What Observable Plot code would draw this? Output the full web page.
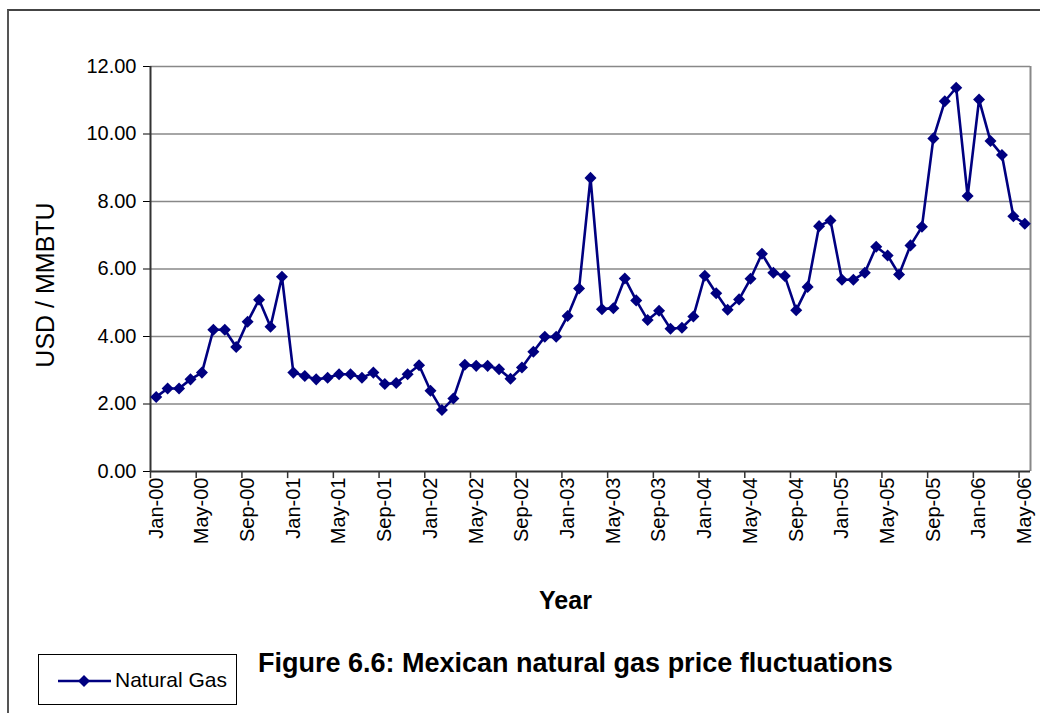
<!DOCTYPE html>
<html>
<head>
<meta charset="utf-8">
<script src="https://cdn.jsdelivr.net/npm/d3@7"></script>
<script src="https://cdn.jsdelivr.net/npm/@observablehq/plot@0.6"></script>
<style>
  html, body { margin: 0; padding: 0; background: #fff; }
  body { width: 1040px; height: 713px; overflow: hidden; position: relative;
         font-family: 'Liberation Sans', Arial, Helvetica, sans-serif; }
  #frame { position: absolute; left: 7px; top: 9px; width: 1200px; height: 900px;
           border-top: 2px solid #444; border-left: 2px solid #555; }
  #chart { position: absolute; left: 0; top: 0; }
  #legend { position: absolute; left: 38px; top: 654px; width: 199px; height: 51px;
            border: 1px solid #000; box-sizing: border-box; background: #fff; }
  #legend svg { position: absolute; left: 18px; top: 19px; }
  #legend span { position: absolute; left: 76px; top: 14px; font-size: 21px; line-height: 21px; color: #000; }
  #caption { position: absolute; left: 258px; top: 650px; font-size: 27px; line-height: 27px;
             font-weight: bold; color: #000; white-space: nowrap; }
</style>
</head>
<body>
<div id="frame"></div>
<div id="chart"></div>
<div id="legend">
  <svg width="56" height="14" viewBox="0 0 56 14">
    <line x1="1" y1="7" x2="54" y2="7" stroke="#000080" stroke-width="2.6"></line>
    <path d="M27,1 L33,7 L27,13 L21,7 Z" fill="#000080"></path>
  </svg>
  <span>Natural Gas</span>
</div>
<div id="caption">Figure 6.6: Mexican natural gas price fluctuations</div>
<script>
// Monthly categories, Jan-00 through May-06
const months = [
  "Jan-00","Feb-00","Mar-00","Apr-00","May-00","Jun-00","Jul-00","Aug-00","Sep-00","Oct-00","Nov-00","Dec-00",
  "Jan-01","Feb-01","Mar-01","Apr-01","May-01","Jun-01","Jul-01","Aug-01","Sep-01","Oct-01","Nov-01","Dec-01",
  "Jan-02","Feb-02","Mar-02","Apr-02","May-02","Jun-02","Jul-02","Aug-02","Sep-02","Oct-02","Nov-02","Dec-02",
  "Jan-03","Feb-03","Mar-03","Apr-03","May-03","Jun-03","Jul-03","Aug-03","Sep-03","Oct-03","Nov-03","Dec-03",
  "Jan-04","Feb-04","Mar-04","Apr-04","May-04","Jun-04","Jul-04","Aug-04","Sep-04","Oct-04","Nov-04","Dec-04",
  "Jan-05","Feb-05","Mar-05","Apr-05","May-05","Jun-05","Jul-05","Aug-05","Sep-05","Oct-05","Nov-05","Dec-05",
  "Jan-06","Feb-06","Mar-06","Apr-06","May-06"
];

// Natural gas price, USD / MMBTU
const price = [
  2.21, 2.46, 2.46, 2.73, 2.93, 4.20, 4.20, 3.69, 4.44, 5.09, 4.29, 5.77,
  2.93, 2.83, 2.73, 2.78, 2.88, 2.88, 2.78, 2.93, 2.59, 2.62, 2.88, 3.15,
  2.39, 1.82, 2.16, 3.16, 3.13, 3.13, 3.03, 2.75, 3.08, 3.55, 3.99, 3.99,
  4.61, 5.42, 8.70, 4.81, 4.84, 5.72, 5.07, 4.49, 4.76, 4.23, 4.26, 4.59,
  5.80, 5.28, 4.79, 5.10, 5.71, 6.45, 5.89, 5.79, 4.78, 5.47, 7.27, 7.44,
  5.68, 5.68, 5.89, 6.66, 6.40, 5.84, 6.70, 7.25, 9.87, 10.97, 11.37, 8.16,
  11.02, 9.79, 9.38, 7.56, 7.34
];

// Labelled months (every fourth category) and value-axis ticks
const labelledMonths = ["Jan-00","May-00","Sep-00","Jan-01","May-01","Sep-01","Jan-02","May-02","Sep-02",
  "Jan-03","May-03","Sep-03","Jan-04","May-04","Sep-04","Jan-05","May-05","Sep-05","Jan-06","May-06"];
const yTicks = [0, 2, 4, 6, 8, 10, 12];

const navy = "#000080";
const data = months.map((m, i) => ({i, month: m, value: price[i]}));
const labelIndex = labelledMonths.map(m => months.indexOf(m));
// Category boundaries where the short tick marks sit
const boundaries = labelIndex.map(i => i - 0.5);

// Square diamond marker
const diamond = {
  draw(context, size) {
    const h = Math.sqrt(size / 2);
    context.moveTo(0, -h);
    context.lineTo(h, 0);
    context.lineTo(0, h);
    context.lineTo(-h, 0);
    context.closePath();
  }
};

const chart = Plot.plot({
  width: 1040,
  height: 640,
  marginLeft: 150,
  marginRight: 10,
  marginTop: 66,
  marginBottom: 169,
  style: {
    fontFamily: "'Liberation Sans', Arial, Helvetica, sans-serif",
    fontSize: "20px",
    color: "#000",
    background: "transparent",
    overflow: "visible"
  },
  x: {
    type: "linear",
    domain: [-0.5, months.length - 0.5],
    ticks: labelIndex,
    tickFormat: i => months[i],
    tickRotate: -90,
    tickSize: 0,
    tickPadding: 6,
    label: null
  },
  y: {
    domain: [0, 12],
    ticks: yTicks,
    tickFormat: d => d.toFixed(2),
    tickSize: 7,
    tickPadding: 7,
    label: null
  },
  marks: [
    Plot.ruleY(yTicks.filter(d => d > 0), {stroke: "#888", strokeWidth: 1.5}),
    Plot.ruleX([months.length - 0.5], {stroke: "#888", strokeWidth: 2}),
    Plot.ruleX(boundaries, {y1: 0, y2: -0.21, stroke: "#333", strokeWidth: 1.5}),
    Plot.ruleY([0], {stroke: "#333", strokeWidth: 2}),
    Plot.ruleX([-0.5], {stroke: "#333", strokeWidth: 2}),
    Plot.line(data, {x: "i", y: "value", stroke: navy, strokeWidth: 2.6}),
    Plot.dot(data, {x: "i", y: "value", symbol: diamond, r: 4.8, fill: navy, stroke: null}),
    Plot.text(["USD / MMBTU"], {text: d => d, frameAnchor: "left", dx: -105, dy: 16,
      rotate: -90, fontSize: 25, textAnchor: "middle"}),
    Plot.text(["Year"], {text: d => d, frameAnchor: "bottom", dx: -25, dy: 137,
      fontSize: 25, fontWeight: "bold"})
  ]
});

document.getElementById("chart").append(chart);
</script>
</body>
</html>
